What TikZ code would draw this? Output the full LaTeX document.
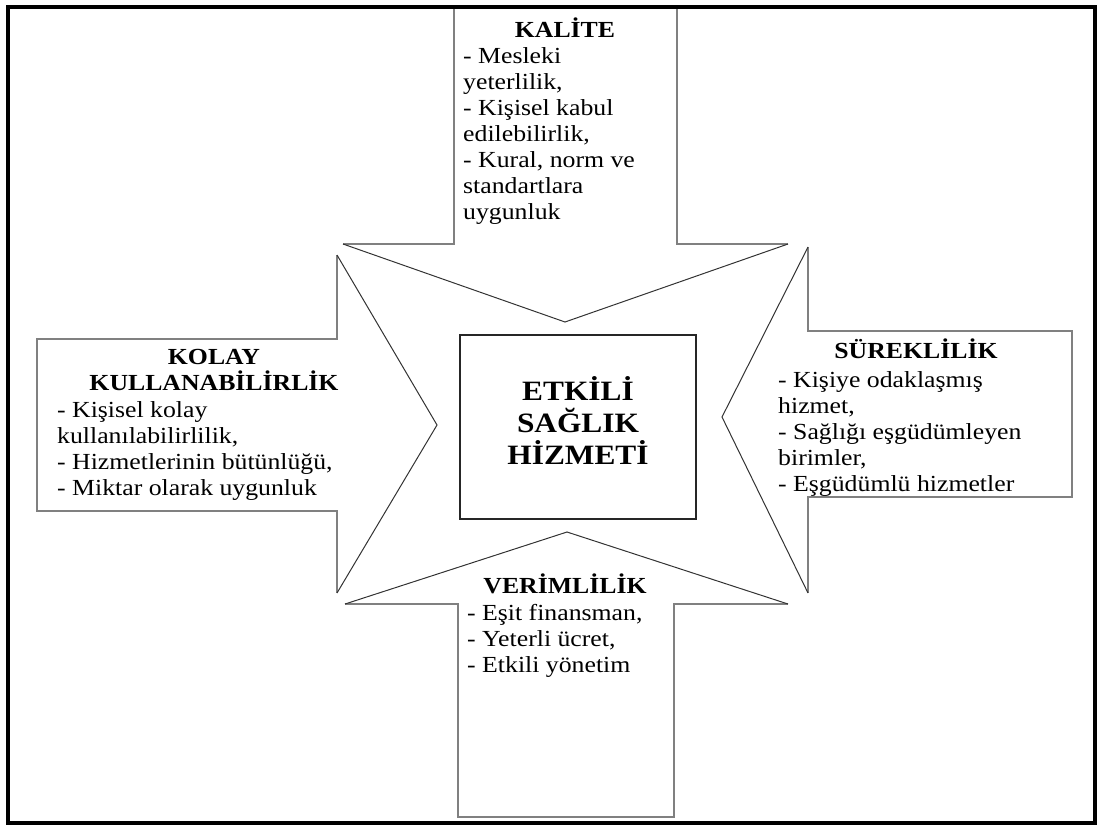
\documentclass[tikz,border=0pt]{standalone}
\usepackage{fontspec}
\setmainfont{Liberation Serif}[FakeStretch=1.12]

\tikzset{
  shaft/.style={draw=black!50, line width=1.8pt, line join=miter},
  head/.style={draw=black!80, line width=1pt},
  heading/.style={anchor=base, inner sep=0pt, font=\fontsize{23}{26}\selectfont\bfseries},
  body/.style={anchor=north west, inner sep=0pt, align=left, font=\fontsize{23}{26}\selectfont},
  hubtext/.style={anchor=north, inner sep=0pt, align=center, font=\fontsize{28}{32}\selectfont\bfseries},
}

\begin{document}
\begin{tikzpicture}[x=1pt,y=-1pt]

\useasboundingbox (0,0) rectangle (1097,825);
\draw[line width=3.6pt] (8,7) rectangle (1095,823);

% top arrow
\draw[shaft] (343,244) -- (454,244) -- (454,9);
\draw[shaft] (788,244) -- (677,244) -- (677,9);
\draw[head] (343,244) -- (565,322) -- (788,244);

% left arrow
\draw[shaft] (337,255) -- (337,339) -- (37,339) -- (37,511) -- (337,511) -- (337,593);
\draw[head] (337,255) -- (437,425) -- (337,593);

% right arrow
\draw[shaft] (808,247) -- (808,331) -- (1072,331) -- (1072,497) -- (808,497) -- (808,593);
\draw[head] (808,247) -- (722,417) -- (808,593);

% bottom arrow
\draw[shaft] (345,604) -- (458,604) -- (458,817) -- (674,817) -- (674,604) -- (788,604);
\draw[head] (345,604) -- (567,532) -- (788,604);

% centre box
\draw[draw=black!85, line width=1.6pt] (460,335) rectangle (696,519);
\node[hubtext] (hub) at (578,373) {\rule{0pt}{27pt}ETKİLİ\\SAĞLIK\\HİZMETİ};

\node[heading] (kalite) at (565,37) {KALİTE};
\node[body] (kalitelist) at (463,44.8) {\strut- Mesleki\\yeterlilik,\\- Kişisel kabul\\edilebilirlik,\\- Kural, norm ve\\standartlara\\uygunluk};

\node[heading] (kolay) at (214,364) {KOLAY};
\node[heading] (kullanim) at (214,390) {KULLANABİLİRLİK};
\node[body] (kolaylist) at (57,398.8) {\strut- Kişisel kolay\\kullanılabilirlilik,\\- Hizmetlerinin bütünlüğü,\\- Miktar olarak uygunluk};

\node[heading] (sureklilik) at (916,358) {SÜREKLİLİK};
\node[body] (sureklist) at (778,368.8) {\strut- Kişiye odaklaşmış\\hizmet,\\- Sağlığı eşgüdümleyen\\birimler,\\- Eşgüdümlü hizmetler};

\node[heading] (verimlilik) at (565,593) {VERİMLİLİK};
\node[body] (verimlist) at (467,601.8) {\strut- Eşit finansman,\\- Yeterli ücret,\\- Etkili yönetim};

\end{tikzpicture}
\end{document}
